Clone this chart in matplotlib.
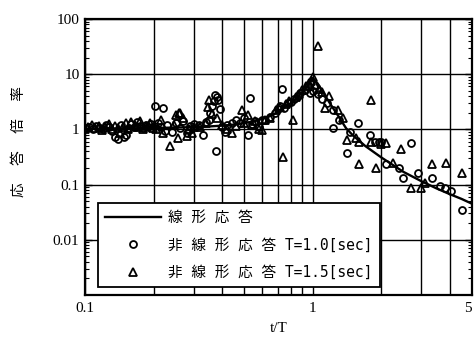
import matplotlib
matplotlib.use('Agg')
import matplotlib.pyplot as plt
from matplotlib.ticker import FixedLocator, NullFormatter, LogLocator
from matplotlib.font_manager import FontProperties

# 線形応答 (line)
lin_x = [0.1, 0.15, 0.2, 0.25, 0.3, 0.35, 0.4, 0.45, 0.5, 0.55, 0.6, 0.65, 0.7, 0.75,
         0.8, 0.85, 0.9, 0.95, 1.0, 1.05, 1.1, 1.15, 1.2, 1.3, 1.4, 1.5, 1.7, 2.0,
         2.5, 3.0, 3.5, 4.0, 4.5, 5.0]
lin_y = [1.02, 1.04, 1.06, 1.08, 1.10, 1.13, 1.17, 1.22, 1.30, 1.40, 1.55, 1.75, 2.05, 2.5,
         3.0, 3.7, 4.7, 6.2, 8.6, 6.8, 5.0, 3.7, 2.8, 1.7, 1.05, 0.78, 0.50, 0.31,
         0.17, 0.115, 0.085, 0.067, 0.055, 0.045]

# 非線形応答 T=1.0[sec] (circles)
c_x = [0.100, 0.104, 0.108, 0.112, 0.116, 0.120, 0.124, 0.128, 0.132, 0.136, 0.140, 0.144,
       0.148, 0.152, 0.156, 0.160, 0.165, 0.170, 0.175, 0.180, 0.185, 0.190, 0.195, 0.200,
       0.203, 0.220, 0.210, 0.215, 0.225, 0.230, 0.240, 0.250, 0.260, 0.270, 0.280, 0.290,
       0.300, 0.315, 0.330, 0.340, 0.350, 0.355, 0.362, 0.368, 0.372, 0.378, 0.385, 0.392,
       0.375, 0.400, 0.410, 0.420, 0.440, 0.460, 0.480, 0.500, 0.520, 0.530, 0.540, 0.560,
       0.580, 0.600, 0.620, 0.650, 0.680, 0.700, 0.730, 0.720, 0.750, 0.780, 0.800, 0.830,
       0.860, 0.880, 0.920, 0.950, 0.970, 1.000, 1.050, 1.100, 1.150, 1.230, 1.300, 1.230,
       1.410, 1.450, 1.580, 1.780, 1.870, 1.950, 2.000, 2.100, 2.400, 2.500, 2.700, 2.900,
       3.350, 3.600, 3.800, 4.050, 4.500]
c_y = [1.05, 1.12, 1.00, 1.15, 1.08, 1.02, 1.18, 1.10, 0.95, 0.72, 0.68, 1.20,
       0.74, 0.80, 1.05, 1.25, 1.10, 1.35, 1.15, 1.05, 1.20, 1.10, 1.25, 1.15,
       2.70, 2.40, 1.30, 1.10, 0.95, 1.20, 0.90, 1.30, 1.05, 1.40, 0.85, 1.15,
       1.25, 1.20, 0.78, 1.35, 1.50, 2.00, 2.60, 3.30, 4.20, 3.80, 3.40, 2.30,
       0.40, 1.10, 0.90, 1.20, 1.30, 1.50, 1.30, 1.60, 0.78, 3.70, 1.25, 1.40,
       1.10, 1.50, 1.50, 1.70, 2.00, 2.30, 5.50, 2.60, 2.40, 3.00, 3.20, 3.60,
       4.00, 4.60, 5.20, 6.00, 4.50, 5.00, 4.30, 3.60, 3.00, 2.20, 1.46, 1.04,
       0.37, 0.90, 1.28, 0.78, 0.58, 0.58, 0.60, 0.24, 0.20, 0.13, 0.56, 0.16,
       0.13, 0.096, 0.088, 0.078, 0.034]

# 非線形応答 T=1.5[sec] (triangles)
t_x = [0.100, 0.103, 0.107, 0.111, 0.115, 0.119, 0.123, 0.127, 0.131, 0.135, 0.139, 0.143,
       0.147, 0.151, 0.155, 0.160, 0.165, 0.170, 0.175, 0.180, 0.186, 0.192, 0.198, 0.205,
       0.215, 0.220, 0.236, 0.245, 0.250, 0.255, 0.258, 0.262, 0.270, 0.280, 0.285, 0.295,
       0.300, 0.320, 0.340, 0.350, 0.348, 0.360, 0.380, 0.400, 0.420, 0.440, 0.460, 0.490,
       0.500, 0.520, 0.540, 0.560, 0.580, 0.600, 0.620, 0.650, 0.690, 0.720, 0.740, 0.760,
       0.790, 0.820, 0.840, 0.870, 0.900, 0.930, 0.960, 0.980, 1.000, 1.050, 1.020, 1.060,
       1.100, 1.130, 1.180, 1.290, 1.360, 1.420, 1.550, 1.600, 1.600, 1.800, 1.800, 1.900,
       2.000, 2.100, 2.250, 2.450, 2.700, 3.000, 3.100, 3.350, 3.850, 4.500]
t_y = [1.00, 1.10, 1.20, 1.05, 1.15, 0.98, 1.10, 1.25, 1.00, 1.15, 1.05, 0.85,
       1.10, 1.30, 1.00, 1.34, 1.20, 1.10, 1.40, 1.00, 1.15, 1.30, 1.05, 1.00,
       1.50, 0.85, 0.51, 1.20, 1.80, 0.69, 2.00, 1.95, 1.60, 0.75, 1.00, 0.85,
       1.10, 1.10, 1.30, 3.40, 2.50, 1.90, 1.60, 1.20, 1.00, 0.85, 1.15, 2.20,
       1.30, 1.80, 1.20, 1.40, 1.00, 0.96, 1.50, 1.60, 2.20, 2.50, 0.31, 2.90,
       3.30, 1.45, 3.80, 4.30, 5.20, 6.00, 7.00, 7.50, 9.00, 33.0, 6.50, 5.50,
       4.80, 2.40, 4.10, 2.20, 1.60, 0.63, 0.70, 0.24, 0.58, 3.40, 0.60, 0.20,
       0.55, 0.56, 0.25, 0.45, 0.085, 0.088, 0.108, 0.24, 0.25, 0.165]

labels = ['線 形 応 答', '非 線 形 応 答 T=1.0[sec]', '非 線 形 応 答 T=1.5[sec]']
jp = ['DejaVu Sans Mono', 'Noto Sans CJK JP']
serif = 'Liberation Serif'

fig = plt.figure(figsize=(4.74, 3.54), dpi=100)
ax = fig.add_axes([85 / 474, 59 / 354, 387 / 474, 276 / 354])
ax.set_xscale('log')
ax.set_yscale('log')

ax.plot(lin_x, lin_y, '-', color='k', lw=1.7, label=labels[0], zorder=3)
ax.plot(c_x, c_y, 'o', mfc='none', mec='k', ms=5, mew=1.3, label=labels[1], zorder=4)
ax.plot(t_x, t_y, '^', mfc='none', mec='k', ms=5.5, mew=1.3, label=labels[2], zorder=4)

ax.set_xlim(0.1, 5)
ax.set_ylim(0.001, 100)

# ticks
ax.xaxis.set_major_locator(FixedLocator([0.1, 1, 5]))
ax.xaxis.set_minor_locator(FixedLocator([0.2, 0.3, 0.4, 0.5, 0.6, 0.7, 0.8, 0.9, 2, 3, 4]))
ax.set_xticklabels(['0.1', '1', '5'], fontfamily=serif, fontsize=11)
ax.get_xticklabels()[-1].set_ha('right')
ax.xaxis.set_minor_formatter(NullFormatter())
ax.tick_params(axis='x', which='both', length=0, pad=5)

ax.yaxis.set_major_locator(FixedLocator([0.01, 0.1, 1, 10, 100]))
ax.yaxis.set_minor_locator(LogLocator(base=10, subs=[2, 3, 4, 5, 6, 7, 8, 9], numticks=20))
ax.yaxis.set_minor_formatter(NullFormatter())
ax.set_yticklabels(['0.01', '0.1', '1', '10', '100'], fontfamily=serif, fontsize=11)
ax.tick_params(axis='y', which='major', direction='in', length=5, width=1.0, right=True, pad=4)
ax.tick_params(axis='y', which='minor', direction='in', length=3, width=0.8, right=True)

ax.grid(True, which='both', axis='x', color='k', lw=1.0)
ax.grid(True, which='major', axis='y', color='k', lw=1.0)
ax.set_axisbelow(True)
for s in ax.spines.values():
    s.set_linewidth(1.6)

ax.set_xlabel('t/T', fontfamily=serif, fontsize=11, labelpad=5)
fig.text(18 / 474, 1 - 141 / 354, '応  答  倍  率', rotation=90, ha='center', va='center',
         fontfamily=jp, fontsize=10.5)

leg = ax.legend(loc='lower left', bbox_to_anchor=(0.034, 0.029, 0.728, 0.326), mode='expand',
                prop=FontProperties(family=jp, size=10.5), frameon=True, fancybox=False,
                edgecolor='k', framealpha=1, borderpad=0.5, labelspacing=0.85,
                handlelength=3.8, handletextpad=0.5, borderaxespad=0)
leg.get_frame().set_linewidth(1.3)
leg.set_zorder(5)

fig.savefig('out.png', dpi=100)
